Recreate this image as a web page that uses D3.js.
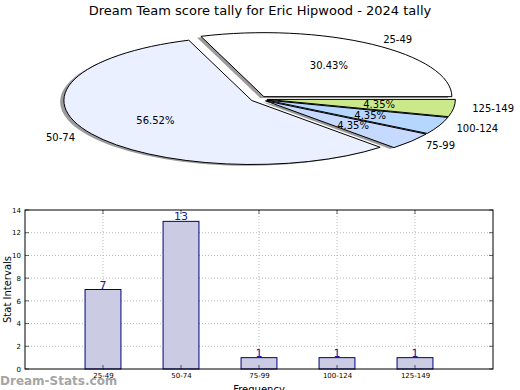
<!DOCTYPE html>
<html><head><meta charset="utf-8">
<script src="https://cdn.jsdelivr.net/npm/d3@7"></script>
<style>body{margin:0;background:#fff}svg{display:block}text{font-family:"DejaVu Sans",sans-serif}</style>
</head><body>
<script>
const title = "Dream Team score tally for Eric Hipwood - 2024 tally";
const categories = ["25-49", "50-74", "75-99", "100-124", "125-149"];
const counts = [7, 13, 1, 1, 1];
const pieColors = ["#ffffff", "#eaf0ff", "#c6d9ff", "#b4d6ff", "#cbe98a"];
const yTicks = [0, 2, 4, 6, 8, 10, 12, 14];

const W = 520, H = 390;
const svg = d3.select("body").append("svg").attr("width", W).attr("height", H);

svg.append("text").attr("x", 260).attr("y", 15).attr("text-anchor", "middle")
  .attr("font-size", 13).attr("fill", "#000").text(title);

// ---- Pie (elliptical, exploded, shadowed) ----
const cx = 259, cy = 99, rx = 188, ry = 64, explode = 0.045;
const total = d3.sum(counts);
const pie = d3.pie().sort(null).startAngle(0).endAngle(2 * Math.PI)(counts);
const arc = d3.arc().innerRadius(0).outerRadius(1)
  .startAngle(d => Math.PI / 2 - d.startAngle).endAngle(d => Math.PI / 2 - d.endAngle);
const pg = svg.append("g");
const mid = d => (d.startAngle + d.endAngle) / 2;
const ox = d => cx + explode * rx * Math.cos(mid(d));
const oy = d => cy - explode * ry * Math.sin(mid(d));

// shadows
pg.selectAll("path.sh").data(pie).enter().append("path").attr("class", "sh")
  .attr("transform", d => `translate(${ox(d) - 0.02 * rx},${oy(d) + 0.02 * ry}) scale(${rx},${ry})`)
  .attr("d", arc)
  .attr("fill", "#7a7a7a")
  .attr("fill-opacity", 0.75);
// wedges
pg.selectAll("path.w").data(pie).enter().append("path").attr("class", "w")
  .attr("transform", d => `translate(${ox(d)},${oy(d)}) scale(${rx},${ry})`)
  .attr("d", arc)
  .attr("fill", (d, i) => pieColors[i])
  .attr("stroke", "#000").attr("stroke-width", 1)
  .attr("vector-effect", "non-scaling-stroke").attr("stroke-linejoin", "round");
// labels
pg.selectAll("text.lab").data(pie).enter().append("text")
  .attr("x", d => ox(d) + 1.1 * rx * Math.cos(mid(d)))
  .attr("y", d => oy(d) - 1.1 * ry * Math.sin(mid(d)))
  .attr("dy", "0.35em").attr("font-size", 10)
  .attr("text-anchor", d => Math.cos(mid(d)) >= 0 ? "start" : "end")
  .text((d, i) => categories[i]);
pg.selectAll("text.pct").data(pie).enter().append("text")
  .attr("x", d => ox(d) + 0.6 * rx * Math.cos(mid(d)))
  .attr("y", d => oy(d) - 0.6 * ry * Math.sin(mid(d)))
  .attr("dy", "0.35em").attr("font-size", 10).attr("text-anchor", "middle")
  .text(d => (d.value / total * 100).toFixed(2) + "%");

// ---- Bar chart ----
const L = 25, R = 493, T = 210, B = 369;
const x = d3.scaleLinear().domain([0, categories.length + 1]).range([L, R]);
const y = d3.scaleLinear().domain([0, 14]).range([B, T]);
const bw = 0.46;
const g = svg.append("g");

// grid
g.selectAll("line.gy").data(yTicks.slice(1, -1)).enter().append("line")
  .attr("x1", L).attr("x2", R).attr("y1", d => y(d)).attr("y2", d => y(d))
  .attr("stroke", "#b8b8b8").attr("stroke-dasharray", "1,2");
g.selectAll("line.gx").data(categories).enter().append("line")
  .attr("x1", (d, i) => x(i + 1)).attr("x2", (d, i) => x(i + 1)).attr("y1", T).attr("y2", B)
  .attr("stroke", "#b8b8b8").attr("stroke-dasharray", "1,2");

// bars
g.selectAll("rect.bar").data(counts).enter().append("rect")
  .attr("x", (d, i) => x(i + 1 - bw / 2)).attr("width", (d, i) => x(i + 1 + bw / 2) - x(i + 1 - bw / 2))
  .attr("y", d => y(d)).attr("height", d => y(0) - y(d))
  .attr("fill", "#cbcbe3").attr("stroke", "#000080").attr("stroke-width", 1);
g.selectAll("text.val").data(counts).enter().append("text")
  .attr("x", (d, i) => x(i + 1)).attr("y", d => y(d) - 1)
  .attr("text-anchor", "middle").attr("font-size", 11).attr("fill", "#1a1aa0").text(d => d);

// axes
const yAx = g.append("g").attr("transform", `translate(${L},0)`)
  .call(d3.axisLeft(y).tickValues(yTicks).tickSize(0).tickPadding(4));
yAx.select(".domain").remove();
yAx.selectAll("text").attr("font-size", 7).attr("font-family", "DejaVu Sans").attr("fill", "#000");
const xAx = g.append("g").attr("transform", `translate(0,${B})`)
  .call(d3.axisBottom(x).tickValues(categories.map((c, i) => i + 1)).tickFormat((d, i) => categories[i]).tickSize(0).tickPadding(4));
xAx.select(".domain").remove();
xAx.selectAll("text").attr("font-size", 7).attr("font-family", "DejaVu Sans").attr("fill", "#000");

// inward tick marks
const tk = 4;
yTicks.forEach(v => {
  g.append("line").attr("x1", L).attr("x2", L + tk).attr("y1", y(v)).attr("y2", y(v)).attr("stroke", "#000").attr("stroke-width", 0.6);
  g.append("line").attr("x1", R).attr("x2", R - tk).attr("y1", y(v)).attr("y2", y(v)).attr("stroke", "#000").attr("stroke-width", 0.6);
});
categories.forEach((c, i) => {
  g.append("line").attr("x1", x(i + 1)).attr("x2", x(i + 1)).attr("y1", B).attr("y2", B - tk).attr("stroke", "#000").attr("stroke-width", 0.6);
  g.append("line").attr("x1", x(i + 1)).attr("x2", x(i + 1)).attr("y1", T).attr("y2", T + tk).attr("stroke", "#000").attr("stroke-width", 0.6);
});
g.append("rect").attr("x", L).attr("y", T).attr("width", R - L).attr("height", B - T)
  .attr("fill", "none").attr("stroke", "#000").attr("stroke-width", 1);

svg.append("text").attr("transform", `translate(7,${(T + B) / 2}) rotate(-90)`)
  .attr("text-anchor", "middle").attr("dy", "0.35em").attr("font-size", 10).text("Stat Intervals");
svg.append("text").attr("x", (L + R) / 2).attr("y", 393).attr("text-anchor", "middle")
  .attr("font-size", 10).text("Frequency");
svg.append("text").attr("x", 0).attr("y", 385).attr("font-size", 12).attr("font-weight", "bold")
  .attr("fill", "#999").attr("fill-opacity", 0.9).text("Dream-Stats.com");
</script>
</body></html>
